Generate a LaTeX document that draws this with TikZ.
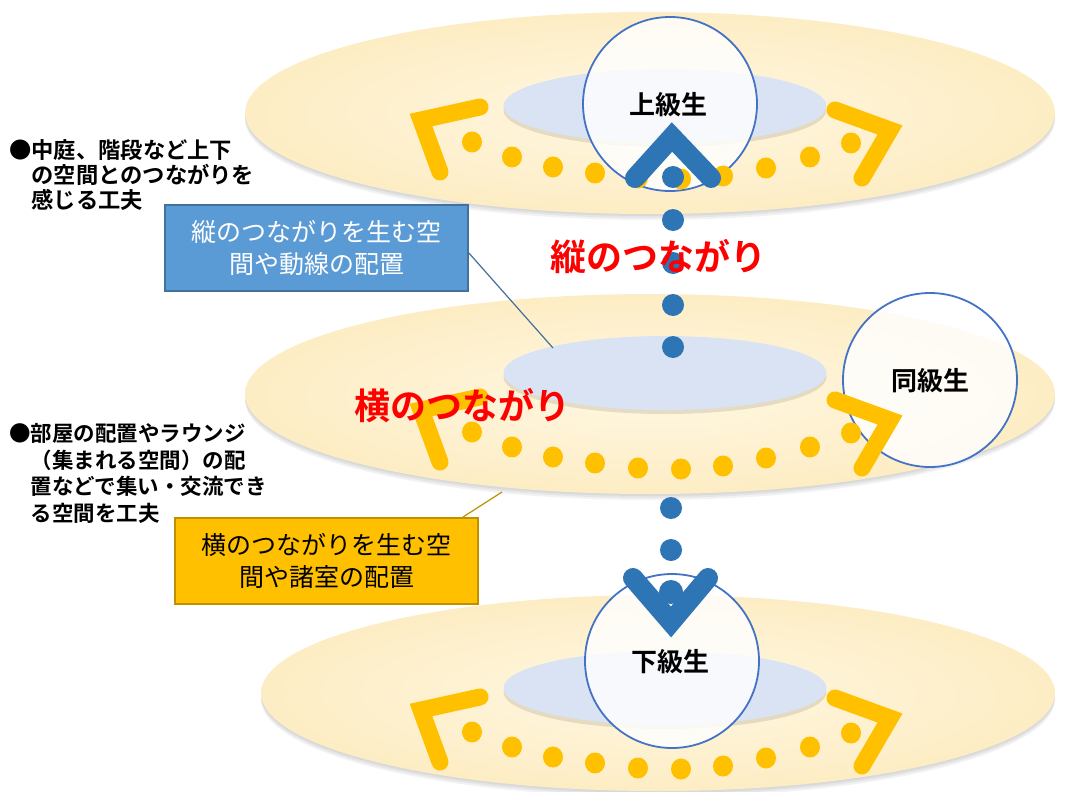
\documentclass[tikz,border=0pt]{standalone}
\usepackage{fontspec}
\setmainfont{Noto Sans CJK JP}[BoldFont={Noto Sans CJK JP Bold}]
\usetikzlibrary{shapes.geometric}
\definecolor{ringA}{HTML}{FFF7E2}
\definecolor{ringB}{HTML}{FDEDC4}
\definecolor{inblue}{HTML}{DAE3F3}
\definecolor{orng}{HTML}{FFC000}
\definecolor{dblue}{HTML}{2E75B6}
\definecolor{cblue}{HTML}{4472C4}
\definecolor{boxblue}{HTML}{5B9BD5}
\definecolor{boxblueline}{HTML}{41719C}
\definecolor{boxorline}{HTML}{BF9000}
\begin{document}
\begin{tikzpicture}[x=1pt,y=-1pt,
  ringshadow/.style={fill=black,opacity=0.05},
  ringfill/.style={inner color=ringA,outer color=ringB},
  plate/.style={ellipse,fill=inblue,minimum width=323pt,minimum height=74pt,inner sep=0pt},
  plateshadow/.style={ellipse,fill=black,opacity=0.10,minimum width=323pt,minimum height=74pt,inner sep=0pt},
  person/.style={circle,draw=cblue,line width=1.8pt,fill=white,fill opacity=0.82,minimum size=174pt,inner sep=0pt},
  personlabel/.style={font=\bfseries\fontsize{26}{26}\selectfont,text=black},
  bracket/.style={orng,line width=17pt,line cap=round,line join=miter},
  chevron/.style={dblue,line width=20pt,line cap=round,line join=miter},
  redlabel/.style={font=\bfseries\fontsize{36}{36}\selectfont,text=red},
  infobox/.style={rectangle,line width=1.8pt,minimum width=303pt,minimum height=86pt,align=center,inner sep=0pt,font=\fontsize{25}{32}\selectfont},
  bullettext/.style={anchor=base west,align=left,inner sep=0pt},
  ]
\useasboundingbox (0,0) rectangle (1065,792);
\fill[white] (0,0) rectangle (1065,792);

% rings with shadows
\foreach \cx/\cy/\rx/\ry in {650/113/405/101, 650/394/405/100, 658/693/397/98}{
  \foreach \d in {2,4,6}{
    \fill[ringshadow] (\cx,\cy+\d) ellipse [x radius=\rx pt,y radius=\ry pt];
  }
  \shade[ringfill] (\cx,\cy) ellipse [x radius=\rx pt,y radius=\ry pt];
}

% inner plates
\node[plateshadow] (pAs) at (665,110) {};
\node[plate] (pA) at (665,106) {};
\node[plateshadow] (pBs) at (665,377) {};
\node[plate] (pB) at (665,373) {};
\node[plateshadow] (pCs) at (665,692) {};
\node[plate] (pC) at (665,688) {};

% person circles
\node[person] (upper) at (670,104) {};
\node[person] (same) at (930,380) {};
\node[person] (lower) at (672,661) {};

% orange brackets
\draw[bracket] (480,107) -- (421,120) -- (440,172);
\draw[bracket] (835,110) -- (890,130) -- (862,178);
\draw[bracket] (480,397) -- (421,410) -- (440,462);
\draw[bracket] (835,400) -- (890,420) -- (862,468);
\draw[bracket] (480,697) -- (421,710) -- (440,762);
\draw[bracket] (835,698) -- (890,718) -- (862,766);

% orange dots
\foreach \off in {-290,0,300}{
  \foreach \px/\py in {472/432,512/447,553/457,595/463,638/468,681/469,723/466,766/458,810/447,851/433}{
    \fill[orng] (\px,\py+\off) ellipse [x radius=10pt,y radius=10.5pt];
  }
}

% blue chevrons and dots
\draw[chevron] (635,178) -- (672,137) -- (711,178);
\draw[chevron] (633,578) -- (671,622) -- (708,578);
\foreach \py in {177,220,263,305,347}{
  \fill[dblue] (673,\py) circle [radius=11pt];
}
\foreach \py in {508,550}{
  \fill[dblue] (671,\py) circle [radius=11pt];
}
\fill[dblue] (671,592) circle [radius=12pt];

% labels
\node[personlabel] (upperL) at (668,105) {上級生};
\node[personlabel] (sameL) at (930,381) {同級生};
\node[personlabel] (lowerL) at (670,662) {下級生};
\node[redlabel] (vlink) at (658,257) {縦のつながり};
\node[redlabel] (hlink) at (462,406) {横のつながり};

% boxes
\node[infobox,fill=boxblue,draw=boxblueline,text=white] (vbox) at (316.5,248) {縦のつながりを生む空\\間や動線の配置};
\node[infobox,fill=orng,draw=boxorline,text=black] (hbox) at (326.5,561) {横のつながりを生む空\\間や諸室の配置};
\coordinate (vtarget) at (553,348);
\coordinate (htarget) at (502,492);
\draw[boxblueline,line width=1.2pt] ([yshift=-5pt]vbox.east) -- (vtarget);
\draw[boxorline,line width=1.2pt] ([xshift=-16pt]hbox.north east) -- (htarget);

% bullet texts (anchor on the baseline of the last line)
\node[bullettext,font=\bfseries\fontsize{22.3}{25}\selectfont] (note1) at (9,208) {●中庭、階段など上下\\\hphantom{●}の空間とのつながりを\\\hphantom{●}感じる工夫};
\node[bullettext,font=\bfseries\fontsize{21.5}{26.5}\selectfont] (note2) at (9,521) {●部屋の配置やラウンジ\\\hphantom{●}（集まれる空間）の配\\\hphantom{●}置などで集い・交流でき\\\hphantom{●}る空間を工夫};
\end{tikzpicture}
\end{document}
